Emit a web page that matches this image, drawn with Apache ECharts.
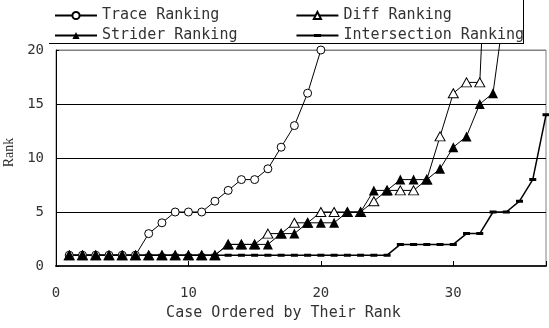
<!DOCTYPE html>
<html>
<head>
<meta charset="utf-8">
<script src="https://cdn.jsdelivr.net/npm/echarts@6/dist/echarts.min.js"></script>
<style>
html,body{margin:0;padding:0;background:#fff;}
#chart{width:549px;height:328px;}
</style>
</head>
<body>
<div id="chart"></div>
<script>
// Data (rank per case, case index starts at 1)
const seriesNames = ['Trace Ranking', 'Diff Ranking', 'Strider Ranking', 'Intersection Ranking'];
const traceRank = [1,1,1,1,1,1,3,4,5,5,5,6,7,8,8,9,11,13,16,20];
const diffRank = [1,1,1,1,1,1,1,1,1,1,1,1,2,2,2,3,3,4,4,5,5,5,5,6,7,7,7,8,12,16,17,17,44];
const striderRank = [1,1,1,1,1,1,1,1,1,1,1,1,2,2,2,2,3,3,4,4,4,5,5,7,7,8,8,8,9,11,12,15,16,25];
const intersectionRank = [1,1,1,1,1,1,1,1,1,1,1,1,1,1,1,1,1,1,1,1,1,1,1,1,1,2,2,2,2,2,3,3,5,5,6,8,14];
const xTicks = [0, 10, 20, 30];
const yTicks = [0, 5, 10, 15, 20];
const xTitle = 'Case Ordered by Their Rank';
const yTitle = 'Rank';

const mono = 'DejaVu Sans Mono';
const txt = '#333';
const toPairs = arr => arr.map((v, i) => [i + 1, v]);

const chart = echarts.init(document.getElementById('chart'), null, {renderer: 'canvas'});

const base = {
  type: 'line',
  clip: false,
  showAllSymbol: true,
  lineStyle: {color: '#000', width: 1},
  emphasis: {disabled: true}
};

chart.setOption({
  animation: false,
  backgroundColor: '#fff',
  grid: {left: 56, right: 3, top: 50, bottom: 62, show: true, borderColor: '#808080', borderWidth: 1,
    containLabel: false, outerBoundsMode: 'none'},
  xAxis: {
    type: 'value', min: xTicks[0], max: 37, interval: 10,
    name: xTitle, nameLocation: 'middle', nameGap: 40,
    nameTextStyle: {fontFamily: mono, fontSize: 15, color: txt, padding: [0, 35, 0, 0]},
    axisLine: {show: true, lineStyle: {color: '#222', width: 2}},
    axisTick: {show: true, inside: true, length: 5, lineStyle: {color: '#000'}},
    axisLabel: {margin: 20, fontFamily: mono, fontSize: 14, color: txt,
      formatter: v => xTicks.includes(v) ? String(v) : ''},
    splitLine: {show: false}
  },
  yAxis: {
    type: 'value', min: yTicks[0], max: yTicks[yTicks.length - 1], interval: 5,
    name: yTitle, nameLocation: 'middle', nameGap: 39, nameRotate: 90,
    nameTextStyle: {fontFamily: 'Liberation Serif', fontSize: 14, color: txt, padding: [0, 0, 0, 11]},
    axisLine: {show: true, lineStyle: {color: '#000', width: 1}},
    axisTick: {show: true, inside: true, length: 3, lineStyle: {color: '#000'}},
    axisLabel: {margin: 12, fontFamily: mono, fontSize: 14, color: txt},
    splitLine: {show: true, lineStyle: {color: ['#000', '#000', '#000', '#000', '#808080'], width: 1}}
  },
  legend: [
    {data: [seriesNames[0], seriesNames[1]], left: 54, top: 8, padding: 0, itemWidth: 42, itemHeight: 9, itemGap: 76,
     textStyle: {fontFamily: mono, fontSize: 15, color: txt}, selectedMode: false, z: 10},
    {data: [seriesNames[2], seriesNames[3]], left: 54, top: 28, padding: 0, itemWidth: 42, itemHeight: 9, itemGap: 58,
     textStyle: {fontFamily: mono, fontSize: 15, color: txt}, selectedMode: false, z: 10}
  ],
  graphic: [
    {type: 'rect', z: 5, shape: {x: 49, y: 0, width: 475, height: 43.5}, style: {fill: '#fff'}},
    {type: 'line', z: 6, shape: {x1: 49, y1: 43.5, x2: 524, y2: 43.5}, style: {stroke: '#000', lineWidth: 1}},
    {type: 'line', z: 6, shape: {x1: 523.5, y1: 0, x2: 523.5, y2: 43.5}, style: {stroke: '#000', lineWidth: 1}}
  ],
  series: [
    Object.assign({}, base, {name: seriesNames[3], data: toPairs(intersectionRank),
      symbol: 'path://M0,0 L0.01,0 L0.01,0.01 Z M7,7 L6.99,7 L6.99,6.99 Z M0,2 L7,2 L7,5 L0,5 Z', symbolSize: 7,
      lineStyle: {color: '#000', width: 1.5}, itemStyle: {color: '#000'}}),
    Object.assign({}, base, {name: seriesNames[0], data: toPairs(traceRank), symbol: 'circle', symbolSize: 8,
      itemStyle: {color: '#fff', borderColor: '#000', borderWidth: 1}}),
    Object.assign({}, base, {name: seriesNames[1], data: toPairs(diffRank), symbol: 'triangle', symbolSize: [10, 9],
      itemStyle: {color: '#fff', borderColor: '#000', borderWidth: 1}}),
    Object.assign({}, base, {name: seriesNames[2], data: toPairs(striderRank), symbol: 'triangle', symbolSize: [10, 10],
      itemStyle: {color: '#000', borderColor: '#000', borderWidth: 0}})
  ]
});
</script>
</body>
</html>
